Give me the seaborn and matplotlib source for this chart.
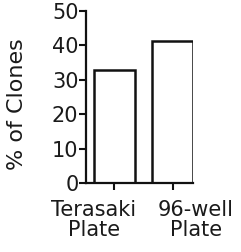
import matplotlib
matplotlib.use("Agg")
import matplotlib.pyplot as plt
import matplotlib.transforms as mtransforms
import seaborn as sns
import pandas as pd

categories = ["Terasaki\nPlate", "96-well\nPlate"]
values = [32.8, 41.2]

sns.set_style("ticks")
plt.rcParams["font.family"] = ["DejaVu Sans"]
plt.rcParams["text.color"] = "#1a1a1a"
plt.rcParams["xtick.labelcolor"] = "#1a1a1a"
plt.rcParams["ytick.labelcolor"] = "#1a1a1a"

df = pd.DataFrame({"plate": categories, "pct": values})

fig = plt.figure(figsize=(2.41, 2.52), dpi=100)
ax = fig.add_axes([0.357, 0.274, 0.444, 0.683])
sns.barplot(data=df, x="plate", y="pct", ax=ax, color="white",
            edgecolor="#111111", linewidth=1.8, width=0.70, saturation=1)

ax.set_ylim(0, 50)
ax.set_xlim(-0.48, 1.35)
ax.set_yticks([0, 10, 20, 30, 40, 50])
ax.set_xlabel("")
ax.set_ylabel("% of Clones", fontsize=16, color="#1a1a1a")
ax.yaxis.set_label_coords(-0.55, 0.46)
ax.tick_params(axis="y", labelsize=15, width=1.5, length=5, color="#111111", pad=0.5)
ax.tick_params(axis="x", labelsize=15, width=1.5, length=5, color="#111111", pad=7)
for s in ["left", "bottom"]:
    ax.spines[s].set_linewidth(1.6)
    ax.spines[s].set_color("#111111")
sns.despine(ax=ax)

# labels in the original are spread away from the ticks
shifts = [-20.5, 23]
for lab, dx in zip(ax.get_xticklabels(), shifts):
    lab.set_linespacing(1.05)
    lab.set_transform(lab.get_transform() +
                      mtransforms.ScaledTranslation(dx / 100, 0, fig.dpi_scale_trans))

fig.savefig("out.png", dpi=100)
